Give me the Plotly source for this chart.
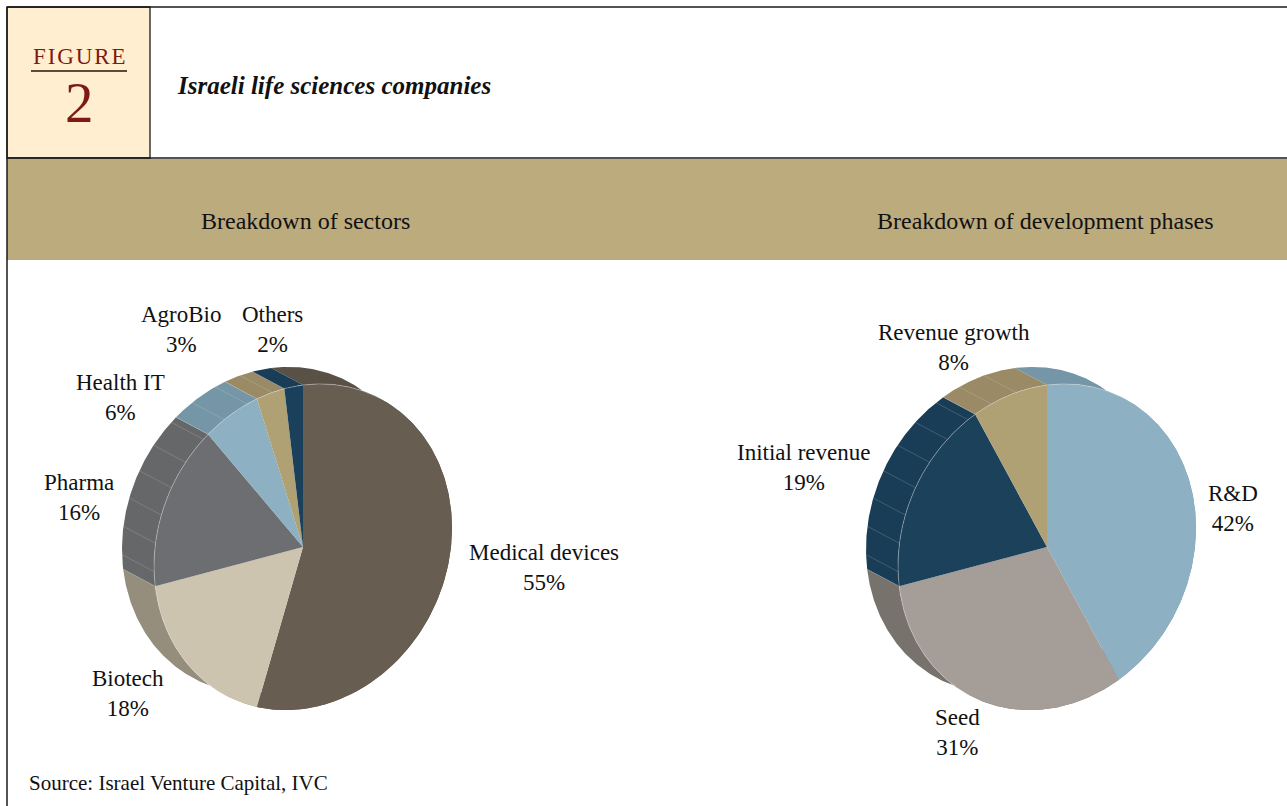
import numpy as np
import plotly.graph_objects as go

# ---- data ----
sector_names = ["Medical devices", "Biotech", "Pharma", "Health IT", "AgroBio", "Others"]
sector_shares = [55, 18, 16, 6, 3, 2]

phase_names = ["R&D", "Seed", "Initial revenue", "Revenue growth"]
phase_shares = [42, 31, 19, 8]

# ---- styles ----
sector_face = ["#675D51", "#CCC4AE", "#6D6E71", "#8DB0C2", "#AFA173", "#1B405B"]
sector_wall = ["#5A5146", "#958E7D", "#666769", "#7596A7", "#9A8B66", "#1A3D57"]
phase_face = ["#8DB0C2", "#A59D97", "#1B415B", "#AFA173"]
phase_wall = ["#7596A7", "#78726D", "#1A3D57", "#9A8B66"]

sector_label_pos = [(544, 567), (128, 693), (79, 497), (120, 397), (181, 329), (272, 329)]
phase_label_pos = [(1233, 508), (957, 732), (803, 467), (954, 347)]

FONT = "Liberation Serif"
W, H = 1287, 806

# oblique 3-D disc: front face ellipse (sheared) and extrusion offset
AX, AY, SH = 149.0, 162.0, -19.0
DX, DY = -32.0, -17.0
FACET_RANGE = (268.0, 356.0)   # angular span of the wall that shows facet seams
FACET_STEP = 10.0


def arc(cx, cy, a0, a1, back=False, step=0.5):
    n = max(2, int(abs(a1 - a0) / step) + 1)
    ph = np.radians(np.linspace(a0, a1, n))
    x = cx + AX * np.sin(ph)
    y = cy - AY * np.cos(ph) + SH * np.sin(ph)
    if back:
        x, y = x + DX, y + DY
    return x, y


def wall_visible(phi_deg):
    ph = np.radians(phi_deg)
    tx = AX * np.cos(ph)
    ty = AY * np.sin(ph) + SH * np.cos(ph)
    return DX * ty - DY * tx > 0


def poly(x, y, color):
    return go.Scatter(x=list(x), y=list(y), mode="lines", fill="toself",
                      fillcolor=color, line=dict(width=0, color=color),
                      hoverinfo="skip", showlegend=False)


def pie3d(cx, cy, shares, faces, walls):
    total = float(sum(shares))
    bounds = np.concatenate([[0.0], np.cumsum(shares) / total * 360.0])
    traces = []
    # side walls first
    for i in range(len(shares)):
        a0, a1 = bounds[i], bounds[i + 1]
        fx, fy = arc(cx, cy, a0, a1)
        bx, by = arc(cx, cy, a1, a0, back=True)
        traces.append(poly(np.r_[fx, bx], np.r_[fy, by], walls[i]))
    # faint facet seams across the upper-left part of the wall
    lx, ly = [], []
    grid = list(np.arange(FACET_RANGE[0], FACET_RANGE[1], FACET_STEP)) + list(bounds[1:-1])
    for g in sorted(set(grid)):
        if wall_visible(g):
            fx, fy = arc(cx, cy, g, g)
            lx += [fx[0], fx[0] + DX, None]
            ly += [fy[0], fy[0] + DY, None]
    traces.append(go.Scatter(x=lx, y=ly, mode="lines",
                             line=dict(width=0.7, color="rgba(225,225,225,0.28)"),
                             hoverinfo="skip", showlegend=False))
    # front faces
    for i in range(len(shares)):
        a0, a1 = bounds[i], bounds[i + 1]
        fx, fy = arc(cx, cy, a0, a1)
        traces.append(poly(np.r_[cx, fx, cx], np.r_[cy, fy, cy], faces[i]))
    # light rim where the face meets the visible wall
    ph = np.arange(0, 360.5, 0.5)
    rx, ry = [], []
    for p in ph:
        if wall_visible(p):
            x, y = arc(cx, cy, p, p)
            rx.append(x[0]); ry.append(y[0])
        else:
            rx.append(None); ry.append(None)
    traces.append(go.Scatter(x=rx, y=ry, mode="lines",
                             line=dict(width=0.8, color="rgba(230,230,230,0.45)"),
                             hoverinfo="skip", showlegend=False, connectgaps=False))
    return traces


fig = go.Figure()
for t in pie3d(303, 547, sector_shares, sector_face, sector_wall):
    fig.add_trace(t)
for t in pie3d(1047, 547, phase_shares, phase_face, phase_wall):
    fig.add_trace(t)

annotations = []
for name, v, (x, y) in zip(sector_names, sector_shares, sector_label_pos):
    annotations.append(dict(x=x, y=y, text=f"{name}<br>{v}%", showarrow=False,
                            xanchor="center", yanchor="middle",
                            font=dict(family=FONT, size=23, color="#111111")))
for name, v, (x, y) in zip(phase_names, phase_shares, phase_label_pos):
    annotations.append(dict(x=x, y=y, text=f"{name}<br>{v}%", showarrow=False,
                            xanchor="center", yanchor="middle",
                            font=dict(family=FONT, size=23, color="#111111")))

hair = "\u200a"
annotations += [
    dict(x=79, y=56, text=hair.join("FIGURE"), showarrow=False, xanchor="center",
         yanchor="middle", font=dict(family=FONT, size=23, color="#7D1B12")),
    dict(x=79, y=102, text="2", showarrow=False, xanchor="center", yanchor="middle",
         font=dict(family=FONT, size=57, color="#7D1B12")),
    dict(x=175, y=85, text="<b><i>Israeli life sciences companies</i></b>", showarrow=False,
         xanchor="left", yanchor="middle", font=dict(family=FONT, size=25, color="#111111")),
    dict(x=305, y=221, text="Breakdown of sectors", showarrow=False, xanchor="center",
         yanchor="middle", font=dict(family=FONT, size=24, color="#111111")),
    dict(x=1045, y=221, text="Breakdown of development phases", showarrow=False,
         xanchor="center", yanchor="middle", font=dict(family=FONT, size=24, color="#111111")),
    dict(x=27, y=783, text="Source: Israel Venture Capital, IVC", showarrow=False,
         xanchor="left", yanchor="middle", font=dict(family=FONT, size=21, color="#111111")),
]
for a in annotations:
    a.update(xref="x", yref="y")

shapes = [
    dict(type="rect", x0=7, x1=150, y0=7, y1=158, fillcolor="#FFEFD0",
         line=dict(color="#1A1A1A", width=1.3), layer="below"),
    dict(type="rect", x0=7, x1=W + 5, y0=159, y1=260, fillcolor="#BCAB7D",
         line=dict(width=0), layer="below"),
    dict(type="line", x0=7, x1=W + 5, y0=7, y1=7, line=dict(color="#1A1A1A", width=1.5)),
    dict(type="line", x0=7, x1=W + 5, y0=158, y1=158, line=dict(color="#1A1A1A", width=1.5)),
    dict(type="line", x0=7, x1=7, y0=7, y1=H + 5, line=dict(color="#1A1A1A", width=1.5)),
    dict(type="line", x0=31, x1=127, y0=71, y1=71, line=dict(color="#5C4A3A", width=2)),
]
for s in shapes:
    s.update(xref="x", yref="y")

fig.update_layout(
    width=W, height=H, margin=dict(l=0, r=0, t=0, b=0),
    paper_bgcolor="white", plot_bgcolor="white",
    xaxis=dict(range=[0, W], visible=False, fixedrange=True),
    yaxis=dict(range=[H, 0], visible=False, fixedrange=True),
    annotations=annotations, shapes=shapes, showlegend=False,
)
fig.write_html("out.html", config={"displayModeBar": False})
